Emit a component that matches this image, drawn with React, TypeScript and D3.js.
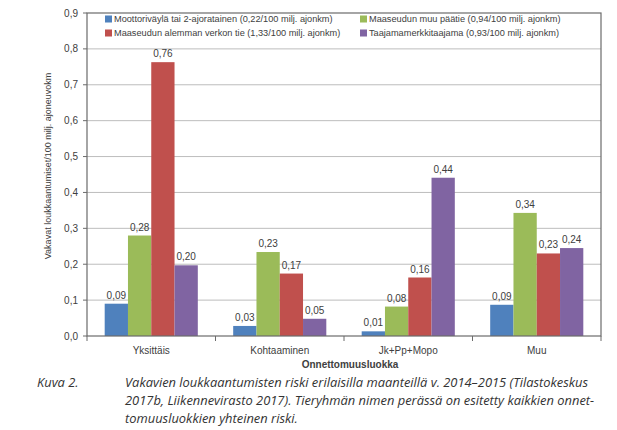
import React from "react";
import * as d3 from "d3";

const categories = ["Yksittäis", "Kohtaaminen", "Jk+Pp+Mopo", "Muu"];
const seriesNames = [
  "Moottoriväylä tai 2-ajoratainen (0,22/100 milj. ajonkm)",
  "Maaseudun  muu päätie (0,94/100 milj. ajonkm)",
  "Maaseudun alemman verkon tie (1,33/100 milj. ajonkm)",
  "Taajamamerkkitaajama (0,93/100 milj. ajonkm)",
];
const moottoritie = [0.09, 0.028, 0.013, 0.087];
const muuPaatie = [0.28, 0.234, 0.082, 0.343];
const alempiVerkko = [0.763, 0.174, 0.163, 0.23];
const taajama = [0.197, 0.048, 0.441, 0.245];
const seriesValues = [moottoritie, muuPaatie, alempiVerkko, taajama];
const seriesColors = ["#4F81BD", "#9BBB59", "#C0504D", "#8064A2"];
const yTicks = [0, 0.1, 0.2, 0.3, 0.4, 0.5, 0.6, 0.7, 0.8, 0.9];
const yTitle = "Vakavat loukkaantumiset/100 milj. ajoneuvokm";
const xTitle = "Onnettomuusluokka";
const captionLabel = "Kuva 2.";
const captionLines = [
  "Vakavien loukkaantumisten riski erilaisilla maanteillä v. 2014–2015 (Tilastokeskus",
  "2017b, Liikennevirasto 2017). Tieryhmän nimen perässä on esitetty kaikkien onnet-",
  "tomuusluokkien yhteinen riski.",
];

const W = 617;
const H = 430;
const left = 87;
const right = 601;
const top = 13;
const bottom = 336;
const font = "Liberation Sans, Arial, sans-serif";
const textColor = "#404040";

export default function App() {
  const y = d3.scaleLinear().domain([0, 0.9]).range([bottom, top]);
  const x0 = d3.scaleBand<string>().domain(categories).range([left, right]).paddingInner(0).paddingOuter(0);
  const x1 = d3
    .scaleBand<number>()
    .domain(d3.range(seriesValues.length))
    .range([0, x0.bandwidth()])
    .paddingOuter(0.76)
    .paddingInner(0);
  const fmt = (v: number) => d3.format(".2f")(v).replace(".", ",");

  // legend layout: two columns (series 0,2 left; 1,3 right), two rows
  const legendPos = (si: number) => ({
    x: si === 0 || si === 2 ? 105 : 360,
    y: si === 0 || si === 1 ? 19 : 33,
  });

  return (
    <svg width={W} height={H} style={{ position: "absolute", left: 0, top: 0, background: "#fff" }} fontFamily={font}>
      <rect x={0} y={0} width={W} height={H} fill="#fff" />
      {/* gridlines */}
      {yTicks.slice(1, -1).map((t) => (
        <line key={t} x1={left} x2={right} y1={y(t)} y2={y(t)} stroke="#BDBDBD" strokeWidth={1} />
      ))}
      {/* legend background */}
      <rect x={left + 10} y={top + 1} width={right - left - 20} height={27} fill="#fff" />
      {/* bars */}
      {categories.map((c, ci) => (
        <g key={c} transform={`translate(${x0(c)},0)`}>
          {seriesValues.map((vals, si) => {
            const v = vals[ci];
            const bx = x1(si)!;
            return (
              <g key={si}>
                <rect x={bx} y={y(v)} width={x1.bandwidth()} height={bottom - y(v)} fill={seriesColors[si]} />
                <text
                  x={bx + x1.bandwidth() / 2}
                  y={y(v) - 5}
                  textAnchor="middle"
                  fontSize={10}
                  fill={textColor}
                >
                  {fmt(v)}
                </text>
              </g>
            );
          })}
        </g>
      ))}
      {/* plot border */}
      <rect x={left} y={top} width={right - left} height={bottom - top} fill="none" stroke="#6b6b6b" strokeWidth={1.2} />
      {/* y ticks */}
      {yTicks.map((t) => (
        <g key={t}>
          <line x1={left - 4} x2={left} y1={y(t)} y2={y(t)} stroke="#6b6b6b" />
          <text x={left - 9} y={y(t)} dy="0.35em" textAnchor="end" fontSize={10} fill={textColor}>
            {fmt(t).slice(0, 3)}
          </text>
        </g>
      ))}
      {/* x ticks */}
      {categories.map((c) => (
        <line key={c} x1={x0(c)!} x2={x0(c)!} y1={bottom} y2={bottom + 5} stroke="#6b6b6b" />
      ))}
      <line x1={right} x2={right} y1={bottom} y2={bottom + 5} stroke="#6b6b6b" />
      {categories.map((c) => (
        <text
          key={c}
          x={x0(c)! + x0.bandwidth() / 2}
          y={350}
          dy="0.35em"
          textAnchor="middle"
          fontSize={10}
          fill={textColor}
        >
          {c}
        </text>
      ))}
      <text x={350} y={364} dy="0.35em" textAnchor="middle" fontSize={10} fontWeight="bold" fill={textColor}>
        {xTitle}
      </text>
      <text
        transform={`translate(48,166) rotate(-90)`}
        textAnchor="middle"
        dy="0.35em"
        fontSize={9}
        fill={textColor}
      >
        {yTitle}
      </text>
      {/* legend */}
      {seriesNames.map((name, si) => {
        const p = legendPos(si);
        return (
          <g key={si}>
            <rect x={p.x} y={p.y - 3.5} width={7} height={7} fill={seriesColors[si]} />
            <text x={p.x + 9} y={p.y} dy="0.35em" fontSize={9.2} fill={textColor}>
              {name}
            </text>
          </g>
        );
      })}
      {/* caption */}
      <g fontFamily="Open Sans, Lato, sans-serif" fontStyle="italic" fontSize={12.9} fill="#333">
        <text x={37} y={387}>{captionLabel}</text>
        {captionLines.map((l, i) => (
          <text key={i} x={125} y={387 + i * 18}>
            {l}
          </text>
        ))}
      </g>
    </svg>
  );
}
